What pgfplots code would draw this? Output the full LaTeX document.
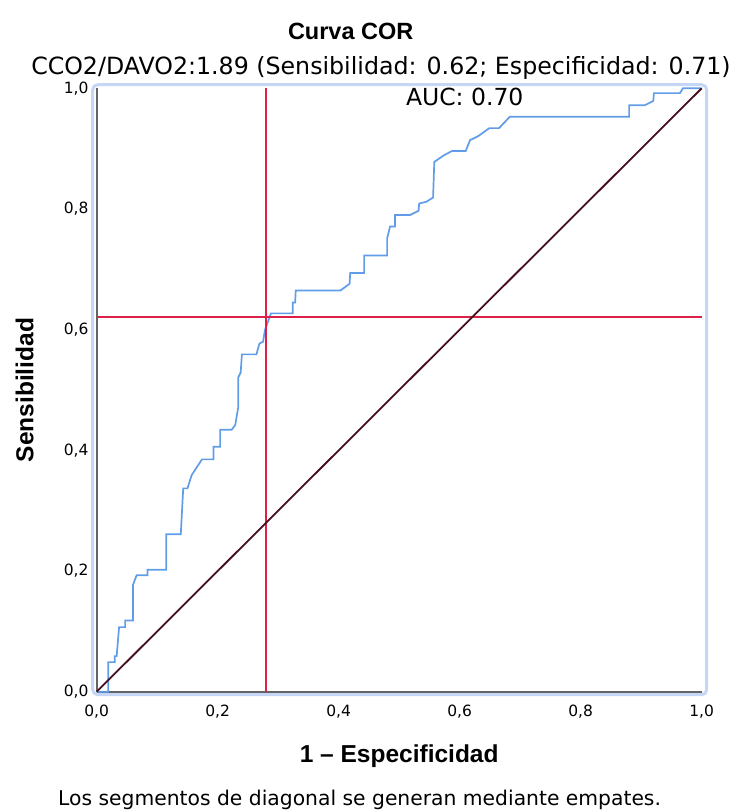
\documentclass[border=0pt]{standalone}
\usepackage{fontspec}
\setmainfont{DejaVu Sans}
\newfontfamily\labelfont{Liberation Sans}
\usepackage{pgfplots}
\pgfplotsset{compat=1.18}

\definecolor{rocblue}{RGB}{96,156,232}
\definecolor{cutred}{RGB}{221,32,72}
\definecolor{diagline}{RGB}{70,15,30}
\definecolor{framebl}{RGB}{197,214,247}
\definecolor{axgray}{RGB}{100,100,100}

\begin{document}
\begin{tikzpicture}
  % frame around the plot area
  \draw[framebl, line width=3pt, rounded corners=5pt] (-4pt,-3pt) rectangle (610pt,607pt);

  \begin{axis}[
    at={(0,0)}, anchor=south west,
    scale only axis,
    width=605pt, height=603.4pt,
    xmin=0, xmax=1, ymin=0, ymax=1,
    axis x line=bottom, axis y line=left,
    axis line style={-, axgray, line width=1.8pt},
    xtick={0,0.2,0.4,0.6,0.8,1},
    ytick={0,0.2,0.4,0.6,0.8,1},
    major tick length=0pt,
    /pgf/number format/.cd, fixed, fixed zerofill, precision=1, use comma, assume math mode=true,
    /pgfplots/.cd,
    tick label style={font=\fontsize{15.5}{17}\selectfont, inner sep=0pt},
    xticklabel style={anchor=north, yshift=-13pt},
    yticklabel style={anchor=east, xshift=-8pt},
    clip=false,
  ]
    % ROC curve
    \addplot[rocblue, line width=1.7pt] coordinates {
      (0,0) (0.019,0) (0.019,0.049) (0.030,0.049) (0.030,0.059) (0.033,0.059)
      (0.037,0.107) (0.047,0.107) (0.047,0.118) (0.060,0.118) (0.060,0.177)
      (0.066,0.193) (0.084,0.193) (0.084,0.202) (0.115,0.202) (0.115,0.261)
      (0.139,0.261) (0.143,0.337) (0.150,0.337) (0.157,0.359) (0.174,0.385)
      (0.193,0.385) (0.193,0.406) (0.204,0.406) (0.204,0.434) (0.223,0.434)
      (0.229,0.442) (0.234,0.472) (0.234,0.521) (0.238,0.529) (0.240,0.559)
      (0.264,0.559) (0.269,0.577) (0.275,0.580) (0.278,0.599) (0.288,0.627)
      (0.324,0.627) (0.324,0.645) (0.328,0.645) (0.329,0.665) (0.403,0.665)
      (0.418,0.676) (0.419,0.694) (0.442,0.694) (0.442,0.723) (0.480,0.723)
      (0.480,0.751) (0.485,0.771) (0.493,0.771) (0.493,0.790) (0.518,0.790)
      (0.532,0.797) (0.533,0.809) (0.545,0.812) (0.556,0.819) (0.558,0.878)
      (0.574,0.889) (0.587,0.896) (0.610,0.896) (0.617,0.914) (0.631,0.921)
      (0.649,0.934) (0.665,0.934) (0.683,0.953) (0.880,0.953) (0.880,0.972)
      (0.906,0.972) (0.920,0.979) (0.921,0.992) (0.964,0.992) (0.969,1.0) (1,1)
    };
    % cut-off lines
    \addplot[cutred, line width=1.7pt] coordinates {(0.28,0) (0.28,1)};
    \addplot[cutred, line width=1.7pt] coordinates {(0,0.621) (1,0.621)};
    % reference diagonal
    \addplot[diagline, line width=1.8pt] coordinates {(0,0) (1,1)};

    \node[anchor=base west, inner sep=0pt, font=\fontsize{23.5}{26}\selectfont]
      at (axis cs:0.511,0.971) {AUC: 0.70};
  \end{axis}

  % titles and labels
  \node[anchor=base, inner sep=0pt, font=\labelfont\bfseries\fontsize{23.5}{26}\selectfont]
    at (254pt,651.7pt) {Curva COR};
  \node[anchor=base, inner sep=0pt, font=\fontsize{23.7}{26}\selectfont]
    at (284.3pt,616.7pt) {CCO2/DAVO2:1.89 (Sensibilidad: 0.62; Especificidad: 0.71)};
  \node[anchor=base, inner sep=0pt, font=\labelfont\bfseries\fontsize{24.5}{28}\selectfont]
    at (302.5pt,-70.3pt) {1 – Especificidad};
  \node[anchor=base, rotate=90, inner sep=0pt, font=\labelfont\bfseries\fontsize{24.5}{28}\selectfont]
    at (-63.4pt,301.7pt) {Sensibilidad};
  \node[anchor=base west, inner sep=0pt, font=\fontsize{20.3}{24}\selectfont]
    at (-38.7pt,-113.3pt) {Los segmentos de diagonal se generan mediante empates.};

  \pgfresetboundingbox
  \path (-96.7pt,-120.3pt) rectangle (637.3pt,691.7pt);
\end{tikzpicture}
\end{document}
